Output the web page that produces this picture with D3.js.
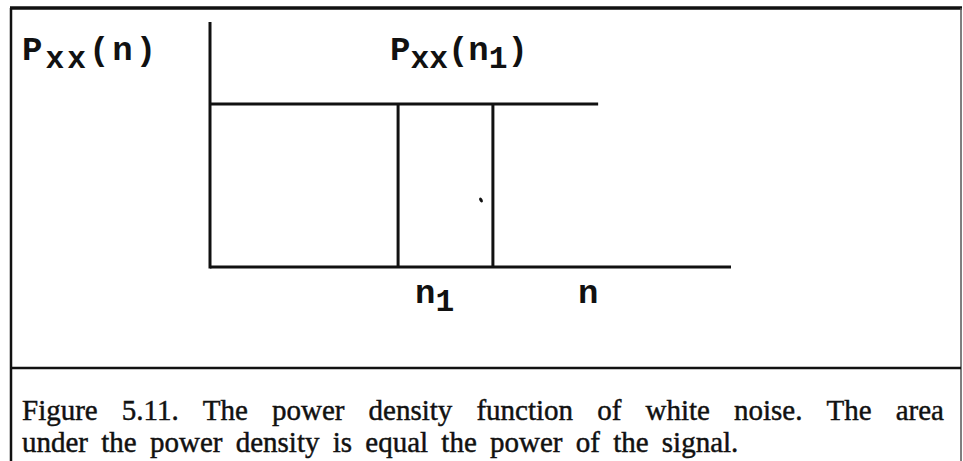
<!DOCTYPE html>
<html>
<head>
<meta charset="utf-8">
<script src="https://cdn.jsdelivr.net/npm/d3@7/dist/d3.min.js"></script>
<style>
  html, body { margin: 0; padding: 0; background: #fff; }
  svg { display: block; }
  .mono { font-family: "Liberation Mono", "Courier New", monospace; font-weight: bold; fill: #111; }
  .cap { font-family: "Liberation Serif", "Times New Roman", serif; fill: #111; stroke: #111; stroke-width: 0.45px; }
</style>
</head>
<body>
<svg id="fig" width="963" height="461"></svg>
<script>
// Frequency axis (arbitrary units) and the flat white-noise power density
const nDomain = [0, 100];
const levelDomain = [0, 1];
const noiseLevel = [0.665];          // P_xx(n) = constant
const levelExtent = [0, 74.5];       // frequency span of the drawn level line
const bandEdges = [36.1, 54.3];      // the slice n1 .. n1 + dn
const axisLabel = [["P", false], ["xx", true], ["(n)", false]];
const bandLabel = [["P", false], ["xx", true], ["(n", false], ["1", true], [")", false]];
const tickLabels = [[["n", false], ["1", true]], [["n", false]]];
const captionLines = [
  "Figure 5.11. The power density function of white noise. The area",
  "under the power density is equal the power of the signal."
];

const svg = d3.select("#fig");
const ink = "#111";

// Frame
const frame = { left: 11, top: 8, right: 961, divider: 368 };
svg.append("line").attr("x1", frame.left).attr("x2", frame.left)
  .attr("y1", frame.top).attr("y2", 461).attr("stroke", ink).attr("stroke-width", 2.5);
svg.append("line").attr("x1", frame.left - 1).attr("x2", frame.right + 1)
  .attr("y1", frame.top).attr("y2", frame.top).attr("stroke", ink).attr("stroke-width", 3.5);
svg.append("line").attr("x1", frame.right).attr("x2", frame.right)
  .attr("y1", frame.top).attr("y2", 461).attr("stroke", "#555").attr("stroke-width", 1.5);
svg.append("line").attr("x1", frame.left).attr("x2", frame.right)
  .attr("y1", frame.divider).attr("y2", frame.divider).attr("stroke", ink).attr("stroke-width", 2.5);

// Scales
const x = d3.scaleLinear().domain(nDomain).range([210, 731]);
const y = d3.scaleLinear().domain(levelDomain).range([267, 22]);

const g = svg.append("g").attr("stroke", ink).attr("stroke-width", 3).attr("stroke-linecap", "butt");

// Axes
g.append("line").attr("x1", x(0)).attr("x2", x(0)).attr("y1", y(0) + 1.5).attr("y2", y(1));
g.append("line").attr("x1", x(0)).attr("x2", x(nDomain[1])).attr("y1", y(0)).attr("y2", y(0));

// Flat density level
g.append("line")
  .attr("x1", x(levelExtent[0])).attr("x2", x(levelExtent[1]))
  .attr("y1", y(noiseLevel[0])).attr("y2", y(noiseLevel[0]));

// Band edges
g.selectAll("line.edge").data(bandEdges).join("line").attr("class", "edge")
  .attr("x1", d => x(d)).attr("x2", d => x(d))
  .attr("y1", y(noiseLevel[0])).attr("y2", y(0));

// small speck inside the band
svg.append("ellipse").attr("cx", 481).attr("cy", 200).attr("rx", 1.6).attr("ry", 2.6)
  .attr("transform", "rotate(-30 481 200)").attr("fill", ink);

// Labels with subscripts
function subLabel(parts, px, py, size, spacing) {
  const t = svg.append("text").attr("class", "mono").attr("x", px).attr("y", py)
    .attr("font-size", size).attr("letter-spacing", spacing);
  let lowered = false;
  parts.forEach(([txt, sub]) => {
    const s = t.append("tspan").text(txt);
    if (sub && !lowered) { s.attr("dy", 8).attr("font-size", size * 0.92); lowered = true; }
    else if (!sub && lowered) { s.attr("dy", -8); lowered = false; }
  });
  return t;
}
subLabel(axisLabel, 22, 60, 34, 3);
subLabel(bandLabel, 390, 60, 34, 0);
subLabel(tickLabels[0], x(bandEdges[0]) + 17, 303, 34, 0);
subLabel(tickLabels[1], 578, 303, 34, 0);

// Caption, first line justified
const capSize = 29;
const capLeft = 22, capRight = 944;
const capBase = [420, 452];
captionLines.forEach((line, li) => {
  const words = line.split(" ");
  if (li === 0) {
    const tmp = svg.append("g");
    const widths = words.map(w => {
      const t = tmp.append("text").attr("class", "cap").attr("font-size", capSize).text(w);
      return t.node().getComputedTextLength();
    });
    tmp.remove();
    const total = d3.sum(widths);
    const gap = (capRight - capLeft - total) / (words.length - 1);
    let cx = capLeft;
    words.forEach((w, i) => {
      svg.append("text").attr("class", "cap").attr("font-size", capSize)
        .attr("x", cx).attr("y", capBase[li]).text(w);
      cx += widths[i] + gap;
    });
  } else {
    svg.append("text").attr("class", "cap").attr("font-size", capSize)
      .attr("x", capLeft).attr("y", capBase[li]).attr("word-spacing", 6).text(line);
  }
});
</script>
</body>
</html>
